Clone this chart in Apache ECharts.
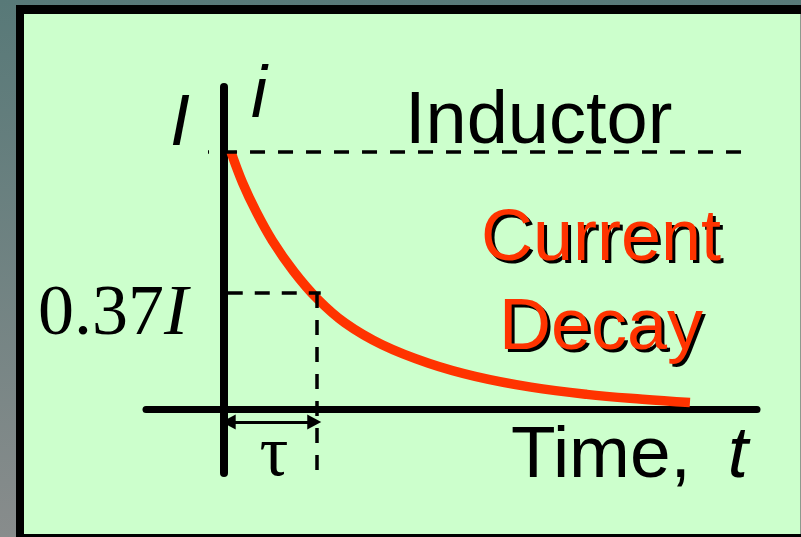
<!DOCTYPE html>
<html>
<head>
<meta charset="utf-8">
<script src="https://cdn.jsdelivr.net/npm/echarts@6/dist/echarts.min.js"></script>
<style>
html,body{margin:0;padding:0;background:#6f8382;}
#chart{width:801px;height:537px;}
</style>
</head>
<body>
<div id="chart"></div>
<script>
// Time in units of tau, current in units of I
const timeTau = [0.075, 0.2, 0.35, 0.52, 0.75, 1.0, 1.3, 1.7, 2.2, 2.7, 3.3, 3.9, 4.5, 5.01];
const currentI = [1.0, 0.88, 0.765, 0.655, 0.535, 0.43, 0.335, 0.25, 0.178, 0.127, 0.085, 0.057, 0.038, 0.025];
const initialLevel = 1;        // "I"
const tauMarkLevel = 0.451;    // drawn level of the "0.37I" guide
const tauValue = 1;            // tau
const labels = {
  yTop: 'I', yName: 'i', title: 'Inductor', line1: 'Current', line2: 'Decay',
  level: '0.37', levelI: 'I', tau: 'τ', xName: 'Time,', xVar: 't'
};

const chart = echarts.init(document.getElementById('chart'), null, {renderer: 'canvas'});
const dash = {type: [15, 13], width: 3.5, color: '#000'};

const option = {
  animation: false,
  backgroundColor: {
    type: 'linear', x: 0, y: 0, x2: 0, y2: 1,
    colorStops: [{offset: 0, color: '#587978'}, {offset: 1, color: '#888c8c'}]
  },
  grid: {left: 146, right: 44, top: 87, bottom: 64, containLabel: false},
  xAxis: {
    type: 'value', min: -0.839, max: 5.731,
    axisLine: {show: true, onZero: true, lineStyle: {color: '#000', width: 7}},
    axisTick: {show: false}, axisLabel: {show: false}, splitLine: {show: false}
  },
  yAxis: {
    type: 'value', min: -0.249, max: 1.253,
    axisLine: {show: true, onZero: true, lineStyle: {color: '#000', width: 8}},
    axisTick: {show: false}, axisLabel: {show: false}, splitLine: {show: false}
  },
  series: [{
    type: 'line',
    data: timeTau.map((t, i) => [t, currentI[i]]),
    smooth: 0.4,
    showSymbol: false,
    lineStyle: {color: '#ff3300', width: 9.5, cap: 'butt'},
    markLine: {
      silent: true,
      symbol: 'none',
      label: {show: false},
      data: [
        [{coord: [-0.172, initialLevel], lineStyle: Object.assign({}, dash, {dashOffset: 14})}, {coord: [5.6, initialLevel]}],
        [{coord: [0.04, tauMarkLevel], lineStyle: Object.assign({}, dash, {type: [15, 12]})}, {coord: [tauValue + 0.04, tauMarkLevel]}],
        [{coord: [tauValue, tauMarkLevel], lineStyle: Object.assign({}, dash, {type: [15, 12]})}, {coord: [tauValue, -0.249]}]
      ]
    }
  }, {
    type: 'line',
    data: [],
    markLine: {
      silent: true,
      symbol: ['triangle', 'triangle'],
      symbolSize: [15, 14],
      label: {show: false},
      lineStyle: {type: 'solid', width: 3, color: '#000'},
      data: [
        [{coord: [0.05, -0.051]}, {coord: [tauValue - 0.03, -0.051]}]
      ]
    }
  }],
  graphic: [
    {type: 'rect', z: -100, shape: {x: 16, y: 5, width: 785, height: 532}, style: {fill: '#000'}},
    {type: 'rect', z: -99, shape: {x: 24, y: 14, width: 776, height: 520}, style: {fill: '#ccffcc'}},
    {type: 'rect', z: -99, shape: {x: 800, y: 14, width: 1, height: 520}, style: {fill: '#8e9a8e'}},
    {type: 'text', z: 100, style: {text: labels.yTop, x: 180, y: 125, textAlign: 'center', textVerticalAlign: 'middle', font: 'italic 72px "Liberation Sans", Arial', fill: '#000'}},
    {type: 'text', z: 100, style: {text: labels.yName, x: 259, y: 97, textAlign: 'center', textVerticalAlign: 'middle', font: 'italic 72px "Liberation Sans", Arial', fill: '#000'}},
    {type: 'text', z: 100, style: {text: labels.title, x: 405, y: 123, textAlign: 'left', textVerticalAlign: 'middle', font: '74px "Liberation Sans", Arial', fill: '#000'}},
    {type: 'text', z: 100, style: {text: labels.line1, x: 604, y: 243, textAlign: 'center', textVerticalAlign: 'middle', font: '72px "Liberation Sans", Arial', fill: '#000'}},
    {type: 'text', z: 101, style: {text: labels.line1, x: 601, y: 240, textAlign: 'center', textVerticalAlign: 'middle', font: '72px "Liberation Sans", Arial', fill: '#ff3300'}},
    {type: 'text', z: 100, style: {text: labels.line2, x: 604, y: 332, textAlign: 'center', textVerticalAlign: 'middle', font: '72px "Liberation Sans", Arial', fill: '#000'}},
    {type: 'text', z: 101, style: {text: labels.line2, x: 601, y: 329, textAlign: 'center', textVerticalAlign: 'middle', font: '72px "Liberation Sans", Arial', fill: '#ff3300'}},
    {type: 'text', z: 100, style: {
      text: '{a|' + labels.level + '}{b|' + labels.levelI + '}', x: 38, y: 315, textAlign: 'left', textVerticalAlign: 'middle',
      rich: {
        a: {font: '72px "Liberation Serif", "Times New Roman"', fill: '#000'},
        b: {font: 'italic 72px "Liberation Serif", "Times New Roman"', fill: '#000'}
      }
    }},
    {type: 'text', z: 100, style: {text: labels.tau, x: 274, y: 456, textAlign: 'center', textVerticalAlign: 'middle', font: '72px "Liberation Serif", "Times New Roman"', fill: '#000'}},
    {type: 'text', z: 100, style: {text: labels.xName, x: 511, y: 457, textAlign: 'left', textVerticalAlign: 'middle', font: '73px "Liberation Sans", Arial', fill: '#000'}},
    {type: 'text', z: 100, style: {text: labels.xVar, x: 738, y: 457, textAlign: 'center', textVerticalAlign: 'middle', font: 'italic 73px "Liberation Sans", Arial', fill: '#000'}}
  ]
};
chart.setOption(option);
</script>
</body>
</html>
